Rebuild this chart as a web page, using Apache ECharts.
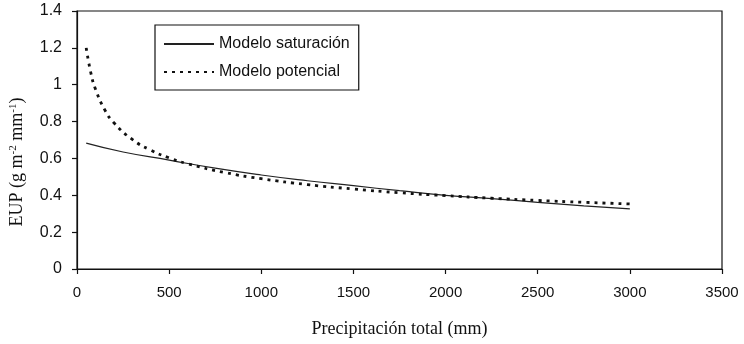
<!DOCTYPE html>
<html>
<head>
<meta charset="utf-8">
<script src="https://cdn.jsdelivr.net/npm/echarts@6/dist/echarts.min.js"></script>
<style>
html,body{margin:0;padding:0;background:#fff;}
#c{width:744px;height:344px;}
</style>
</head>
<body>
<div id="c"></div>
<script>
// Data
var satX = [50, 250, 500, 750, 1000, 1250, 1500, 1750, 2000, 2250, 2500, 2750, 3000];
var satY = [0.683, 0.635, 0.591, 0.547, 0.510, 0.479, 0.452, 0.425, 0.400, 0.382, 0.362, 0.343, 0.326];
var potX = [50, 75, 100, 150, 200, 300, 400, 500, 600, 800, 1000, 1250, 1500, 1750, 2000, 2250, 2500, 2750, 3000];
var potY = [1.20, 1.065, 0.977, 0.865, 0.794, 0.703, 0.645, 0.603, 0.571, 0.524, 0.490, 0.458, 0.434, 0.414, 0.398, 0.384, 0.372, 0.362, 0.353];
var seriesNames = ['Modelo saturación', 'Modelo potencial'];
var xTitle = 'Precipitación total (mm)';

function pairs(xs, ys) { return xs.map(function (x, i) { return [x, ys[i]]; }); }

var chart = echarts.init(document.getElementById('c'));
chart.setOption({
  animation: false,
  backgroundColor: '#fff',
  grid: { left: 70, right: 22, top: 11, bottom: 75, show: true, borderColor: '#111', borderWidth: 1.2, backgroundColor: 'transparent' },
  legend: {
    orient: 'vertical',
    left: 155, top: 25,
    padding: [11, 9, 10, 8],
    itemGap: 12,
    itemWidth: 50, itemHeight: 14,
    borderColor: '#111', borderWidth: 1.2,
    backgroundColor: '#fff',
    itemStyle: { opacity: 0 },
    textStyle: { fontFamily: 'Liberation Sans, Arial, sans-serif', fontSize: 16, color: '#111' },
    data: seriesNames
  },
  xAxis: {
    type: 'value', min: 0, max: 3500, interval: 500,
    name: xTitle, nameLocation: 'middle', nameGap: 51,
    nameTextStyle: { fontFamily: 'Liberation Serif, Times New Roman, serif', fontSize: 18, color: '#111' },
    axisLine: { lineStyle: { color: '#111', width: 1.2 } },
    axisTick: { show: true, length: 5, lineStyle: { color: '#111', width: 1.2 } },
    axisLabel: { margin: 16, fontFamily: 'Liberation Sans, Arial, sans-serif', fontSize: 15, color: '#111',
      formatter: function (v) { return String(v); } },
    splitLine: { show: false }
  },
  yAxis: {
    type: 'value', min: 0, max: 1.4, interval: 0.2,
    name: '{n|EUP (g m}{s|-2}{n| mm}{s|-1}{n|)}', nameLocation: 'middle', nameGap: 50,
    nameTextStyle: {
      padding: [0, 44, 0, 0],
      rich: {
        n: { fontFamily: 'Liberation Serif, Times New Roman, serif', fontSize: 18, color: '#111' },
        s: { fontFamily: 'Liberation Serif, Times New Roman, serif', fontSize: 11, color: '#111', verticalAlign: 'top', padding: [0, 0, 8, 0] }
      }
    },
    axisLine: { show: true, lineStyle: { color: '#111', width: 1.2 } },
    axisTick: { show: true, length: 5, lineStyle: { color: '#111', width: 1.2 } },
    axisLabel: { margin: 15, fontFamily: 'Liberation Sans, Arial, sans-serif', fontSize: 16, color: '#111',
      formatter: function (v) { return String(Math.round(v * 10) / 10); } },
    splitLine: { show: false }
  },
  series: [
    {
      name: seriesNames[0], type: 'line', smooth: true, symbol: 'none',
      data: pairs(satX, satY),
      itemStyle: { color: '#222' },
      lineStyle: { color: '#222', width: 1.2 }
    },
    {
      name: seriesNames[1], type: 'line', smooth: true, symbol: 'none',
      data: pairs(potX, potY),
      itemStyle: { color: '#111' },
      lineStyle: { color: '#111', width: 2.8, type: [3, 5] }
    }
  ]
});
</script>
</body>
</html>
